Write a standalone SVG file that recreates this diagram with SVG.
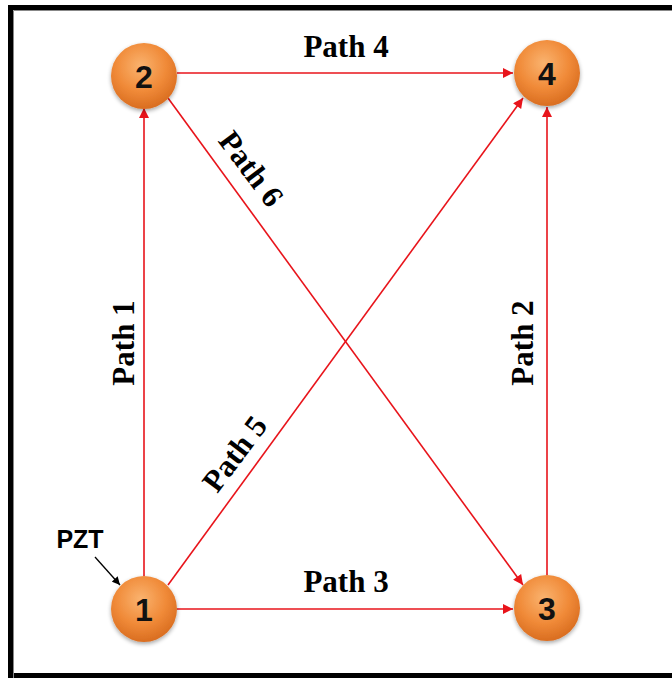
<svg xmlns="http://www.w3.org/2000/svg" width="672" height="678" viewBox="0 0 672 678">
<defs>
<radialGradient id="ball" cx="0.45" cy="0.35" r="0.7">
<stop offset="0" stop-color="#FAB36F"/>
<stop offset="0.55" stop-color="#F08A38"/>
<stop offset="1" stop-color="#D5681C"/>
</radialGradient>
<filter id="sh" x="-30%" y="-30%" width="160%" height="160%">
<feGaussianBlur in="SourceAlpha" stdDeviation="2"/>
<feOffset dy="2"/>
<feComponentTransfer><feFuncA type="linear" slope="0.35"/></feComponentTransfer>
<feMerge><feMergeNode/><feMergeNode in="SourceGraphic"/></feMerge>
</filter>
<marker id="ar" viewBox="0 0 10 10" refX="10" refY="5" markerWidth="11" markerHeight="10" markerUnits="userSpaceOnUse" orient="auto">
<path d="M0,0 L10,5 L0,10 z" fill="#E8141B"/>
</marker>
<marker id="ak" viewBox="0 0 10 10" refX="10" refY="5" markerWidth="9" markerHeight="8" markerUnits="userSpaceOnUse" orient="auto">
<path d="M0,0 L10,5 L0,10 z" fill="#000"/>
</marker>
</defs>
<style>
.edge{stroke:#E8141B;stroke-width:1.6;fill:none;marker-end:url(#ar)}
.lbl{font-family:"Liberation Serif","Times New Roman",serif;font-weight:bold;font-size:31px;fill:#000;text-anchor:middle}
.num{font-family:"Liberation Sans",Arial,sans-serif;font-weight:bold;font-size:32px;fill:#111;text-anchor:middle}
.node circle{fill:url(#ball);filter:url(#sh)}
</style>
<rect x="0" y="0" width="672" height="678" fill="#fff"/>
<rect x="10.5" y="7.5" width="680" height="668" fill="none" stroke="#000" stroke-width="5"/>
<path d="M13.5,680 V10.5 H680" fill="none" stroke="#888" stroke-width="1"/>
<g id="connectors">
<line class="edge" x1="144" y1="576" x2="144" y2="108"/>
<line class="edge" x1="177" y1="73" x2="513" y2="73"/>
<line class="edge" x1="547" y1="575" x2="547" y2="107"/>
<line class="edge" x1="177" y1="609" x2="513" y2="609"/>
<line class="edge" x1="168" y1="585" x2="523" y2="98"/>
<line class="edge" x1="168" y1="98" x2="523" y2="585"/>
<line x1="95" y1="557" x2="120" y2="585" stroke="#000" stroke-width="1.3" marker-end="url(#ak)"/>
</g>
<g id="labels">
<text class="lbl" x="346" y="57">Path 4</text>
<text class="lbl" x="346" y="592">Path 3</text>
<text class="lbl" transform="translate(134,343) rotate(-90)">Path 1</text>
<text class="lbl" transform="translate(533,343) rotate(-90)">Path 2</text>
<text class="lbl" transform="translate(243,175) rotate(53)">Path 6</text>
<text class="lbl" transform="translate(243,460) rotate(-53)">Path 5</text>
<text id="pzt" x="80" y="548" font-family="Liberation Sans,Arial,sans-serif" font-weight="bold" font-size="25" text-anchor="middle">PZT</text>
</g>
<g id="node1" class="node"><circle cx="144" cy="609" r="33"/><text class="num" x="144" y="621">1</text></g>
<g id="node2" class="node"><circle cx="144" cy="76" r="33"/><text class="num" x="144" y="88">2</text></g>
<g id="node3" class="node"><circle cx="547" cy="608" r="33"/><text class="num" x="547" y="620">3</text></g>
<g id="node4" class="node"><circle cx="547" cy="73" r="33"/><text class="num" x="547" y="85">4</text></g>
</svg>
